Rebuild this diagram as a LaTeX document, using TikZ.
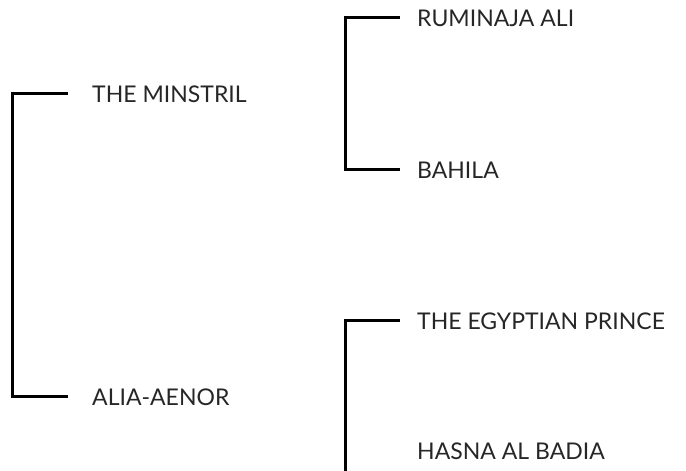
\documentclass[tikz,border=0pt]{standalone}
\usepackage{fontspec}
\setmainfont{Lato}
\usetikzlibrary{positioning}
\tikzstyle{horse} = [anchor=west, inner sep=0pt, text height=16.5pt, text depth=0pt, font=\fontsize{23}{25}\selectfont, text=black!85]
\tikzstyle{bracket} = [line width=3pt, black]

\begin{document}
\begin{tikzpicture}[x=1pt, y=1pt]

\useasboundingbox (0,0) rectangle (686,471);

\node (minstril) [horse] at (92,377) {THE MINSTRIL};
\node (alia) [horse] at (92,74) {ALIA-AENOR};

\node (ruminaja) [horse] at (417,453) {RUMINAJA ALI};
\node (bahila) [horse] at (417,301) {BAHILA};

\node (egyptian) [horse] at (417,150) {THE EGYPTIAN PRINCE};
\node (hasna) [horse] at (417,20) {HASNA AL BADIA};

\coordinate (edge) at (345,0);

\draw [bracket] ([xshift=-24pt]minstril.west) -- ++(-56pt,0) |- ([xshift=-24pt]alia.west);
\draw [bracket] ([xshift=-17pt]ruminaja.west) -- ++(-55pt,0) |- ([xshift=-17pt]bahila.west);
\draw [bracket] ([xshift=-17pt]egyptian.west) -- ++(-55pt,0) -- (edge);

\end{tikzpicture}
\end{document}
